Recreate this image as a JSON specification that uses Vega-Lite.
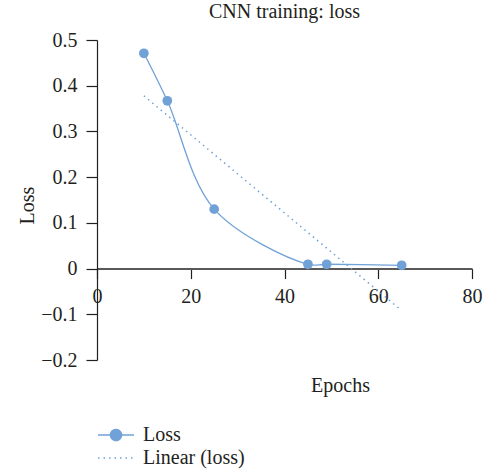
{
  "$schema": "https://vega.github.io/schema/vega-lite/v6.json",
  "width": 375,
  "height": 320,
  "autosize": "none",
  "padding": {"left": 97, "top": 40, "right": 21, "bottom": 114},
  "config": {
    "view": {"stroke": null},
    "font": "Liberation Serif",
    "title": {"font": "Liberation Serif", "fontSize": 20, "fontWeight": "normal", "color": "#231f20"},
    "axis": {"labelFont": "Liberation Serif", "titleFont": "Liberation Serif", "labelFontSize": 20, "titleFontSize": 20, "titleFontWeight": "normal", "labelColor": "#231f20", "titleColor": "#231f20", "grid": false, "labelFlush": false},
    "legend": {"labelFont": "Liberation Serif", "labelFontSize": 20, "labelColor": "#231f20"}
  },
  "title": {"text": "CNN training: loss", "anchor": "middle", "baseline": "alphabetic", "offset": -8},
  "datasets": {
    "loss": [
      {"series": "Loss", "epoch": 10, "loss": 0.471},
      {"series": "Loss", "epoch": 15, "loss": 0.367},
      {"series": "Loss", "epoch": 25, "loss": 0.13},
      {"series": "Loss", "epoch": 45, "loss": 0.0094},
      {"series": "Loss", "epoch": 49, "loss": 0.0094},
      {"series": "Loss", "epoch": 65, "loss": 0.0072}
    ],
    "trend": [
      {"series": "Linear (loss)", "epoch": 10, "loss": 0.378},
      {"series": "Linear (loss)", "epoch": 65, "loss": -0.092}
    ]
  },
  "encoding": {
    "x": {"field": "epoch", "type": "quantitative",
      "scale": {"domain": [0, 80], "nice": false, "zero": false},
      "axis": {"values": [0, 20, 40, 60, 80], "title": "Epochs", "offset": -91.43,
        "domainColor": "#595959", "domainWidth": 2, "tickColor": "#231f20", "tickSize": 10, "tickWidth": 1.2,
        "labelPadding": 8, "titleX": 243, "titleY": 123, "titleBaseline": "alphabetic", "titleAlign": "center"}},
    "y": {"field": "loss", "type": "quantitative",
      "scale": {"domain": [-0.2, 0.5], "nice": false, "zero": false},
      "axis": {"values": [-0.2, -0.1, 0, 0.1, 0.2, 0.3, 0.4, 0.5], "format": ".1~f", "title": "Loss",
        "domainColor": "#231f20", "domainWidth": 1.2, "tickColor": "#231f20", "tickSize": 11, "tickWidth": 1.2,
        "labelPadding": 9, "titleX": -64, "titleY": 165, "titleBaseline": "alphabetic", "titleAlign": "center", "titleAngle": -90}},
    "color": {"field": "series", "type": "nominal",
      "scale": {"domain": ["Loss", "Linear (loss)"], "range": ["#70a1d7", "#70a1d7"]},
      "legend": {"title": null, "orient": "none", "legendX": 6, "legendY": 382, "padding": 0, "rowPadding": 0,
        "symbolSize": 576, "labelOffset": 14, "direction": "vertical",
        "encode": {"symbols": {"update": {
          "shape": {"signal": "datum.value === 'Loss' ? 'M-1.5,0L1.5,0M-0.46,0A0.46,0.46,0,1,1,0.46,0A0.46,0.46,0,1,1,-0.46,0Z' : 'M-1.5,0L1.5,0'"},
          "fill": {"signal": "datum.value === 'Loss' ? '#70a1d7' : 'transparent'"},
          "stroke": {"value": "#70a1d7"},
          "strokeWidth": {"value": 1.5},
          "strokeDash": {"signal": "datum.value === 'Loss' ? [1, 0] : [1.5, 4]"},
          "size": {"value": 576},
          "opacity": {"value": 1}
        }}}}}
  },
  "layer": [
    {"data": {"name": "trend"}, "mark": {"type": "line", "strokeWidth": 1.5, "strokeDash": [1.5, 4]}},
    {"data": {"name": "loss"}, "mark": {"type": "line", "interpolate": "catmull-rom", "strokeWidth": 1.3}},
    {"data": {"name": "loss"}, "mark": {"type": "point", "filled": true, "size": 95, "opacity": 1}}
  ]
}
